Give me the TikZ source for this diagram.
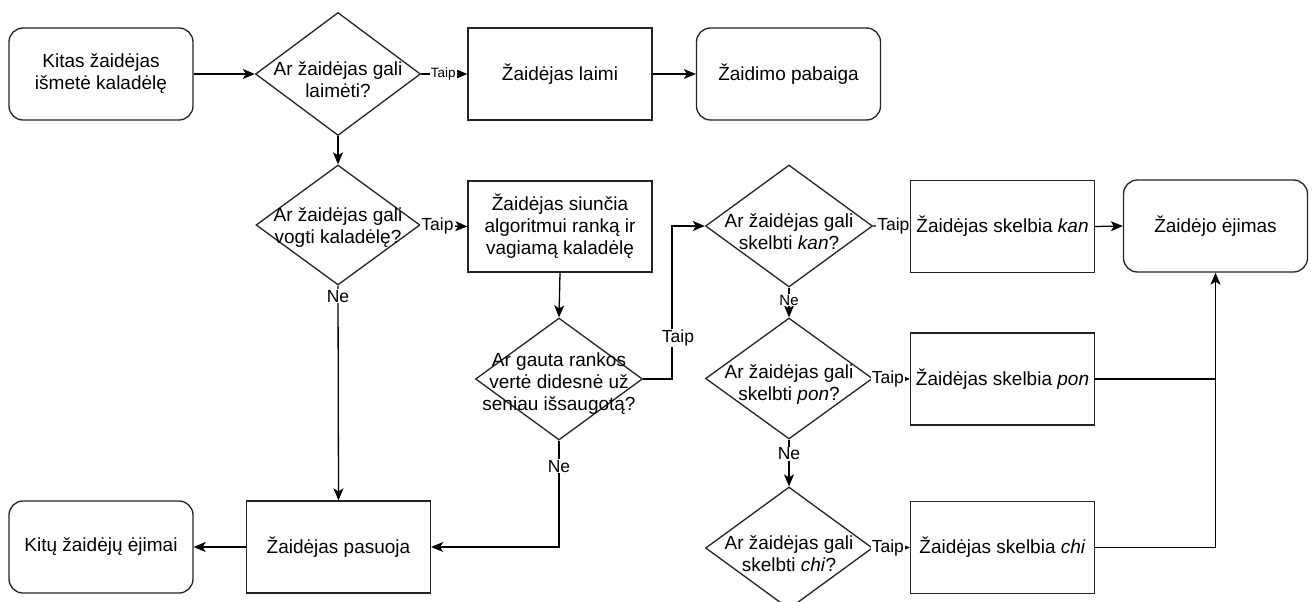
\documentclass[tikz,border=0pt]{standalone}
\usepackage{fontspec}
\setmainfont{Liberation Sans}
\usetikzlibrary{arrows.meta,shapes.geometric}
\definecolor{ink}{RGB}{36,36,36}
\begin{document}
\begin{tikzpicture}[x=1pt,y=-1pt,
  every node/.style={font=\fontsize{19}{22}\selectfont, text=black, align=center},
  base/.style={draw=ink, line width=1.3pt, fill=white, minimum width=184pt, minimum height=92pt, inner sep=2pt},
  proc/.style={base, rectangle},
  term/.style={base, rectangle, rounded corners=14pt},
  dec/.style={draw=ink, line width=1.3pt, fill=white, diamond, inner sep=0pt, minimum width=167pt, minimum height=122pt},
  flow/.style={draw=black, line width=1.3pt, -{Stealth[length=12pt,width=10pt,inset=3pt]}},
  plain/.style={draw=black, line width=1.3pt},
  elbl/.style={fill=white, inner sep=1pt, font=\fontsize{17.5}{19}\selectfont},
]
\useasboundingbox (0,0) rectangle (1312,602);
\clip (0,0) rectangle (1312,602);

% top row
\node[term] (start) at (101,74) {Kitas žaidėjas\\išmetė kaladėlę};
\node[dec, minimum width=165pt, minimum height=123pt] (d1) at (338,74) {};
\node (d1t) at (338,80) {Ar žaidėjas gali\\laimėti?};
\node[proc] (win) at (560,74) {Žaidėjas laimi};
\node[term] (end) at (788.5,74) {Žaidimo pabaiga};

% second row
\node[dec, minimum width=164pt, minimum height=120pt] (d2) at (338,225) {};
\node (d2t) at (338,228) {Ar žaidėjas gali\\vogti kaladėlę?};
\node[proc, minimum height=91pt] (steal) at (560,226.5) {Žaidėjas siunčia\\algoritmui ranką ir\\vagiamą kaladėlę};
\node[dec] (d3) at (559,379) {};
\node (d3t) at (559,384) {Ar gauta rankos\\vertė didesnė už\\seniau išsaugotą?};

% declarations column
\node[dec] (d4) at (789,226) {};
\node (d4t) at (789,232) {Ar žaidėjas gali\\skelbti \textit{kan}?};
\node[proc] (kan) at (1002.5,226.5) {Žaidėjas skelbia \textit{kan}};
\node[dec, minimum height=121pt] (d5) at (789,378.5) {};
\node (d5t) at (789,385) {Ar žaidėjas gali\\skelbti \textit{pon}?};
\node[proc] (pon) at (1002.5,379) {Žaidėjas skelbia \textit{pon}};
\node[dec] (d6) at (789,548) {};
\node (d6t) at (789,554) {Ar žaidėjas gali\\skelbti \textit{chi}?};
\node[proc] (chi) at (1002.5,547.5) {Žaidėjas skelbia \textit{chi}};
\node[term] (turn) at (1215.5,226) {Žaidėjo ėjimas};

% bottom row
\node[proc] (pass) at (338.5,547) {Žaidėjas pasuoja};
\node[term] (others) at (101,547) {Kitų žaidėjų ėjimai};

% connectors
\draw[flow] (start.east) -- (d1.west);
\draw[flow] (d1.east) -- node[elbl, font=\fontsize{13.5}{14}\selectfont, pos=0.48] {Taip} (win.west);
\draw[flow] (win.east) -- (end.west);
\draw[flow] (d1.south) -- (d2.north);
\draw[flow] (d2.east) -- node[elbl, pos=0.36] {Taip} (steal.west);
\draw[flow] (d2.south) -- node[elbl, pos=0.05] {Ne} (pass.north);
\draw[flow] (steal.south) -- (d3.north);
\coordinate (bend) at (672,379);
\draw[flow] (d3.east) -- (bend) |- node[elbl, pos=0.134, xshift=6pt] {Taip} (d4.west);
\draw[flow] (d3.south) |- node[elbl, pos=0.12] {Ne} (pass.east);
\draw[flow] (pass.west) -- (others.east);
\draw[flow] (d4.east) -- node[elbl, pos=0.55] {Taip} (kan.west);
\draw[flow] (d4.south) -- node[elbl, font=\fontsize{15}{16}\selectfont, pos=0.42] {Ne} (d5.north);
\draw[flow] (kan.east) -- (turn.west);
\draw[flow] (d5.east) -- node[elbl, pos=0.4] {Taip} (pon.west);
\draw[flow] (d5.south) -- node[elbl, pos=0.3] {Ne} (d6.north);
\draw[flow] (d6.east) -- node[elbl, pos=0.4] {Taip} (chi.west);
\draw[plain] (pon.east) -- (pon.east -| turn.south);
\draw[flow] (chi.east) -| (turn.south);
\end{tikzpicture}
\end{document}
